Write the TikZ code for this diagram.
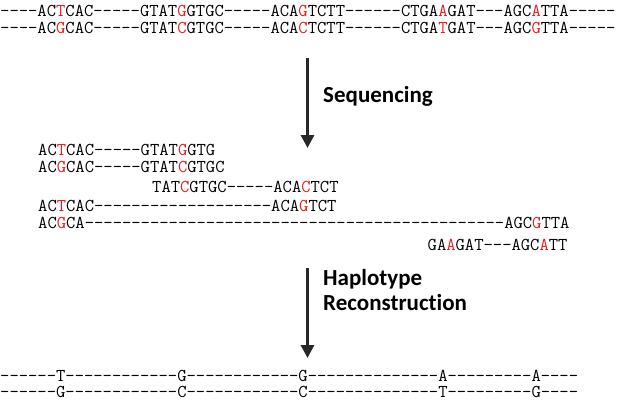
\documentclass[tikz,border=0pt]{standalone}
\usepackage{fontspec}
\usepackage{tikz}
\usetikzlibrary{arrows.meta}
\newfontfamily\stepfont[Ligatures=NoCommon]{Carlito}
\definecolor{cSnp}{RGB}{230,30,30}
\definecolor{cArrow}{RGB}{40,40,40}
\newcommand{\snp}[1]{{\color{cSnp}#1}}
\newcommand{\cw}{9.5}

\begin{document}
\begin{tikzpicture}[x=1bp, y=-1bp,
      seq/.style={anchor=west, inner sep=0pt, font=\fontsize{18.1bp}{20bp}\ttfamily},
      lbl/.style={anchor=base west, inner sep=0pt, align=left,
                  font=\fontsize{23bp}{25bp}\stepfont\bfseries},
      >={Triangle[length=13bp, width=13bp]}]
    \useasboundingbox (0,0) rectangle (628,402);
    % haplotypes
    \node[seq] (hapA) at (0,11) {----AC\snp{T}CAC-----GTAT\snp{G}GTGC-----ACA\snp{G}TCTT------CTGA\snp{A}GAT---AGC\snp{A}TTA-----};
    \node[seq] (hapB) at (0,28) {----AC\snp{G}CAC-----GTAT\snp{C}GTGC-----ACA\snp{C}TCTT------CTGA\snp{T}GAT---AGC\snp{G}TTA-----};
    % reads
    \node[seq] (readA) at (4*\cw,150) {AC\snp{T}CAC-----GTAT\snp{G}GTG};
    \node[seq] (readB) at (4*\cw,167) {AC\snp{G}CAC-----GTAT\snp{C}GTGC};
    \node[seq] (readC) at (16*\cw,187) {TAT\snp{C}GTGC-----ACA\snp{C}TCT};
    \node[seq] (readD) at (4*\cw,206) {AC\snp{T}CAC-------------------ACA\snp{G}TCT};
    \node[seq] (readE) at (4*\cw,223) {AC\snp{G}CA---------------------------------------------AGC\snp{G}TTA};
    \node[seq] (readF) at (45*\cw,245) {GA\snp{A}GAT---AGC\snp{A}TT};
    % reconstructed
    \node[seq] (resA) at (0,376) {------T------------G------------G--------------A---------A----};
    \node[seq] (resB) at (0,392) {------G------------C------------C--------------T---------G----};
    % steps
    \coordinate (seqTop) at (307.5,58);
    \coordinate (seqEnd) at (307.5,148);
    \coordinate (recTop) at (307.5,268);
    \coordinate (recEnd) at (307.5,358);
    \draw[->, line width=3bp, cArrow] (seqTop) -- (seqEnd);
    \draw[->, line width=3bp, cArrow] (recTop) -- (recEnd);
    \node[lbl] (seqLbl) at (323,102) {Sequencing};
    \node[lbl] (recLbl) at (323,310) {Haplotype\\Reconstruction};
\end{tikzpicture}
\end{document}
